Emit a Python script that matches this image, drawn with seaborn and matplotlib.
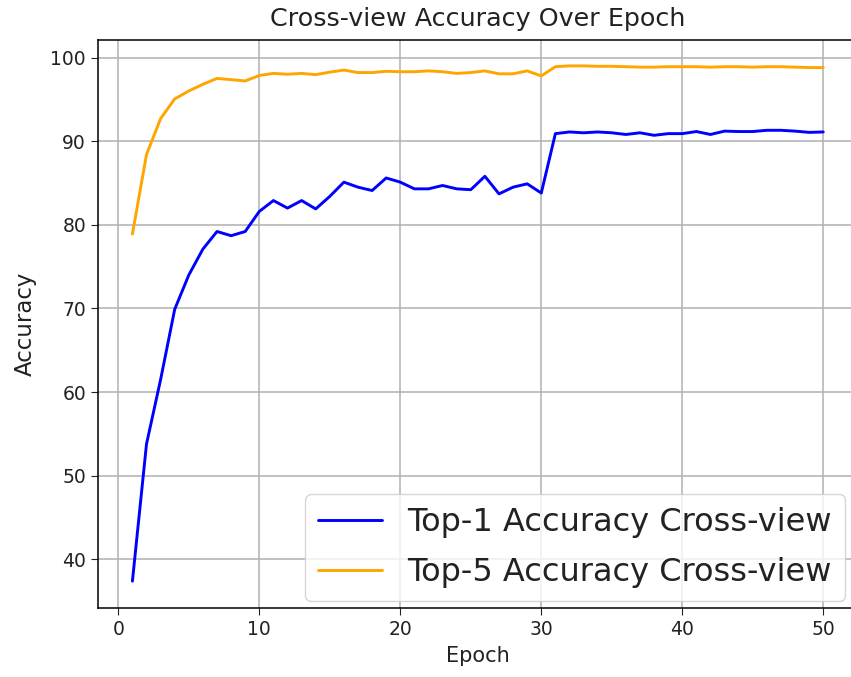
import numpy as np
import pandas as pd
import matplotlib
matplotlib.use("Agg")
import matplotlib.pyplot as plt
import seaborn as sns

epochs = list(range(1, 51))

top1_acc = [37.4, 53.8, 61.5, 69.9, 74.0, 77.1, 79.2, 78.7, 79.2, 81.6,
            82.9, 82.0, 82.9, 81.9, 83.4, 85.1, 84.5, 84.1, 85.6, 85.1,
            84.3, 84.3, 84.7, 84.3, 84.2, 85.8, 83.7, 84.5, 84.9, 83.8,
            90.9, 91.1, 91.0, 91.1, 91.0, 90.8, 91.0, 90.7, 90.9, 90.9,
            91.15, 90.8, 91.2, 91.15, 91.15, 91.3, 91.3, 91.2, 91.05, 91.1]

top5_acc = [78.9, 88.4, 92.7, 95.05, 96.0, 96.8, 97.5, 97.35, 97.2, 97.85,
            98.1, 98.0, 98.1, 97.95, 98.25, 98.5, 98.2, 98.2, 98.35, 98.3,
            98.3, 98.4, 98.3, 98.1, 98.2, 98.4, 98.05, 98.05, 98.4, 97.8,
            98.9, 99.0, 99.0, 98.95, 98.95, 98.9, 98.85, 98.85, 98.9, 98.9,
            98.9, 98.85, 98.9, 98.9, 98.85, 98.9, 98.9, 98.85, 98.8, 98.8]

df = pd.DataFrame({
    'Epoch': epochs * 2,
    'Accuracy': top1_acc + top5_acc,
    'Series': ['Top-1 Accuracy Cross-view'] * 50 + ['Top-5 Accuracy Cross-view'] * 50,
})

sns.set_style("white")
plt.rcParams['font.family'] = ['DejaVu Sans']
plt.rcParams['text.color'] = '#222222'
plt.rcParams['axes.labelcolor'] = '#222222'
plt.rcParams['xtick.color'] = '#222222'
plt.rcParams['ytick.color'] = '#222222'

fig = plt.figure(figsize=(8.51, 6.77), dpi=100)
# right edge of the axes falls just past the figure, as in the cropped original
ax = fig.add_axes([0.115, 0.102, 0.893, 0.839])

sns.lineplot(data=df, x='Epoch', y='Accuracy', hue='Series',
             palette={'Top-1 Accuracy Cross-view': 'blue', 'Top-5 Accuracy Cross-view': 'orange'},
             linewidth=2.1, ax=ax)

ax.set_xlim(-1.45, 52.45)
ax.set_ylim(34.2, 102.1)
ax.set_xticks([0, 10, 20, 30, 40, 50])
ax.set_yticks([40, 50, 60, 70, 80, 90, 100])
ax.grid(True, color='#b0b0b0', linewidth=1.1)
ax.tick_params(labelsize=13.5, length=5, direction='out', left=True, bottom=True)
for s in ax.spines.values():
    s.set_color('black')
    s.set_linewidth(1.1)

ax.set_title('Cross-view Accuracy Over Epoch', fontsize=18.3, pad=10)
ax.set_xlabel('Epoch', fontsize=15, labelpad=5)
ax.set_ylabel('Accuracy', fontsize=16.5, labelpad=10)
ax.legend(loc='lower right', bbox_to_anchor=(0.983, 0.012), borderaxespad=0,
          fontsize=23, frameon=True, framealpha=0.8,
          handlelength=2.0, labelspacing=0.6)

fig.savefig('out.png', dpi=100)
